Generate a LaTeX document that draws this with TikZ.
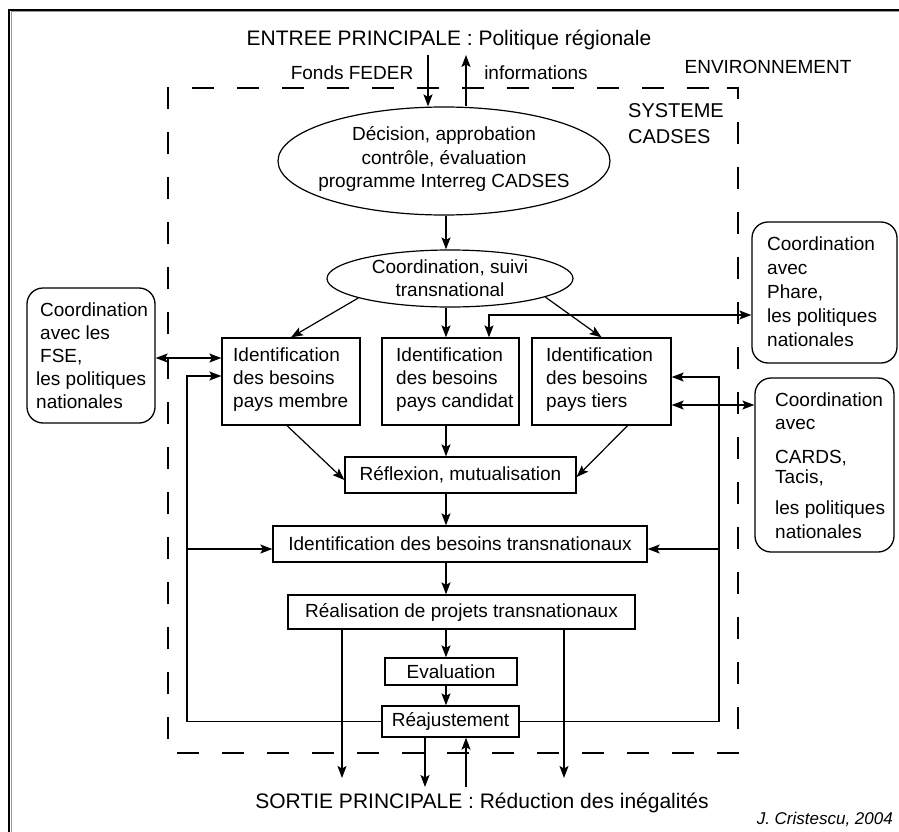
\documentclass[tikz,border=0pt]{standalone}
\usepackage{fontspec}
\setmainfont{Liberation Sans}
\usetikzlibrary{arrows.meta,shapes.geometric}
\begin{document}
\begin{tikzpicture}[x=1pt,y=-1pt,
 txt/.style={font=\fontsize{19}{23}\selectfont, inner sep=0pt},
 bx/.style={draw, line width=1.3pt, inner sep=0pt},
 rbx/.style={draw, line width=1.3pt, rounded corners=16pt, inner sep=0pt},
 ell/.style={draw, ellipse, line width=1.2pt, inner sep=0pt},
 arr/.style={line width=1.2pt, -{Stealth[length=12pt,width=9pt,inset=2.5pt]}},
 darr/.style={line width=1.2pt, {Stealth[length=12pt,width=9pt,inset=2.5pt]}-{Stealth[length=12pt,width=9pt,inset=2.5pt]}}
]
\useasboundingbox (0,0) rectangle (899,832);
% outer frame
\draw[line width=1pt, black!40] (11,832) -- (11,11.5) -- (899,11.5);
\draw[line width=2pt] (9.3,832) -- (9.3,10) -- (899,10);
% system boundary
\draw[line width=1.4pt, dash pattern=on 22pt off 23pt] (727,88) -- (738,88) -- (738,753) -- (168,753) -- (168,88) -- cycle;

% texts
\node[txt, font=\fontsize{21}{25}\selectfont] (entree) at (449,40) {ENTREE PRINCIPALE : Politique régionale};
\node[txt] (feder) at (352,73) {Fonds FEDER};
\node[txt] (info) at (536,73) {informations};
\node[txt] (env) at (768,67) {ENVIRONNEMENT};
\node[txt, align=left, anchor=west, font=\fontsize{20}{26}\selectfont] (sys) at (628,124) {SYSTEME\\CADSES};

% ellipses
\node[ell, minimum width=332, minimum height=108] (dec) at (444,161) {};
\node[txt, align=center, font=\fontsize{19}{23.5}\selectfont] (dect) at (444,159) {Décision, approbation\\contrôle, évaluation\\programme Interreg CADSES};
\node[ell, minimum width=246, minimum height=57] (coord) at (450,278.5) {};
\node[txt, align=center] (coordt) at (450,278.5) {Coordination, suivi\\transnational};

% identification boxes
\node[bx, minimum width=138, minimum height=87] (mem) at (291,381.5) {};
\node[txt, align=left, anchor=west] (memt) at (233,380) {Identification\\des besoins\\pays membre};
\node[bx, minimum width=137, minimum height=87] (cand) at (450.5,381.5) {};
\node[txt, align=left, anchor=west] (candt) at (396,380) {Identification\\des besoins\\pays candidat};
\node[bx, minimum width=139, minimum height=87] (tiers) at (601.5,381.5) {};
\node[txt, align=left, anchor=west] (tierst) at (546,380) {Identification\\des besoins\\pays tiers};

% process boxes
\node[bx, txt, minimum width=231, minimum height=36] (refl) at (460.5,475) {Réflexion, mutualisation};
\node[bx, txt, minimum width=374, minimum height=36] (trans) at (460,544) {Identification des besoins transnationaux};
\node[bx, txt, minimum width=347, minimum height=34] (real) at (461.5,612) {Réalisation de projets transnationaux};
\node[bx, txt, minimum width=132, minimum height=27] (eval) at (451,671.5) {Evaluation};
\node[bx, txt, minimum width=137, minimum height=31] (reaj) at (450.5,721.5) {Réajustement};

% coordination boxes
\node[rbx, minimum width=128, minimum height=135] (fse) at (91,355.5) {};
\node[txt, align=left, anchor=west] (fset) at (36,356) {\hspace*{4pt}Coordination\\\hspace*{4pt}avec les\\\hspace*{4pt}FSE,\\les politiques\\nationales};
\node[rbx, minimum width=145, minimum height=141] (phare) at (824.5,292.5) {};
\node[txt, align=left, anchor=west, font=\fontsize{19}{24}\selectfont] (pharet) at (767,292) {Coordination\\avec\\Phare,\\les politiques\\nationales};
\node[rbx, minimum width=139, minimum height=174] (cards) at (824.5,465) {};
\node[txt, align=left, anchor=west] (cardst) at (775,466) {Coordination\\avec\\[11pt]CARDS,\\[-3pt]Tacis,\\[8pt]les politiques\\[1pt]nationales};

% bottom texts
\node[txt, font=\fontsize{21}{25}\selectfont] (sortie) at (482,803) {SORTIE PRINCIPALE : Réduction des inégalités};
\node[txt, anchor=east, font=\fontsize{17}{20}\selectfont\itshape] (auth) at (893,819) {J. Cristescu, 2004};

% coordinates
\coordinate (fin) at (428,55);
\coordinate (fout) at (466,55);
\coordinate (col) at (446,0);
\coordinate (pj) at (489,315);
\coordinate (fj) at (190,358);
\coordinate (cj) at (700,405);
\coordinate (fbl) at (187,376);
\coordinate (fbr) at (719,377);
\coordinate (tj) at (0,549);
\coordinate (o1) at (342,778);
\coordinate (o2) at (564,778);
\coordinate (o3) at (425,787);
\coordinate (o4) at (466,787);

% connectors
\draw[arr] (fin) -- (fin |- dec.north);
\draw[arr] (fout |- dec.north) -- (fout);
\draw[arr] (dec.south -| col) -- (coord.north -| col);
\draw[arr] (coord.192) -- (mem.north);
\draw[arr] (coord.south -| col) -- (cand.north -| col);
\draw[arr] (coord.349) -- (tiers.north);
\draw[darr] (cand.north -| pj) |- (phare.west |- pj);
\draw[darr] (fse.east |- fj) -- (mem.west |- fj);
\draw[darr] (tiers.east |- cj) -- (cards.west |- cj);
\draw[arr] ([xshift=-4pt]mem.south) -- ([yshift=-5pt]refl.west);
\draw[arr] (cand.south -| col) -- (refl.north -| col);
\draw[arr] ([xshift=26pt]tiers.south) -- ([yshift=-2pt]refl.east);
\draw[arr] (refl.south -| col) -- (trans.north -| col);
\draw[arr] (trans.south -| col) -- (real.north -| col);
\draw[arr] (real.south -| col) -- (eval.north -| col);
\draw[arr] (eval.south -| col) -- (reaj.north -| col);
\draw[arr] (reaj.west) -| (fbl) -- (mem.west |- fbl);
\draw[arr] (reaj.east) -| (fbr) -- (tiers.east |- fbr);
\draw[arr] (fbl |- tj) -- (trans.west |- tj);
\draw[arr] (fbr |- tj) -- (trans.east |- tj);
\draw[arr] (real.south -| o1) -- (o1);
\draw[arr] (real.south -| o2) -- (o2);
\draw[arr] (reaj.south -| o3) -- (o3);
\draw[arr] (o4) -- (reaj.south -| o4);
\end{tikzpicture}
\end{document}
